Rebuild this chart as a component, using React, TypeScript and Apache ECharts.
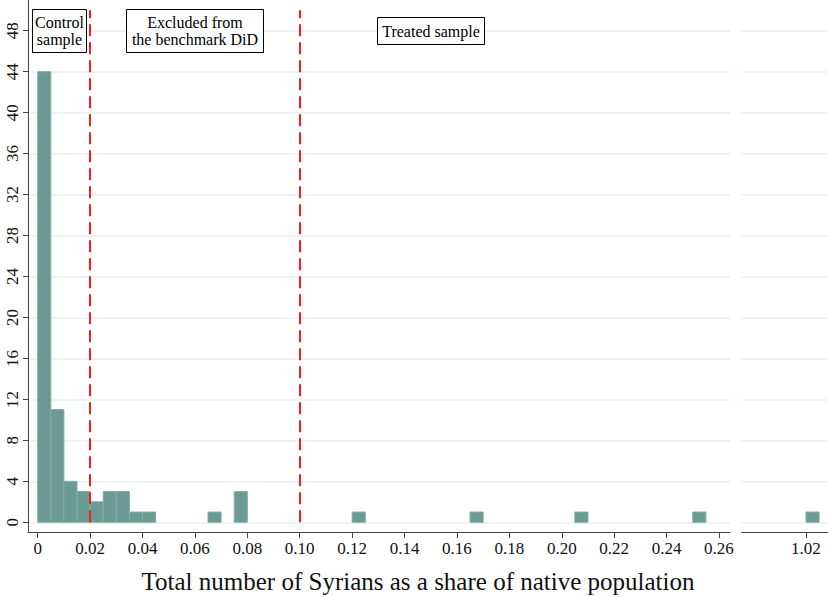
import React, { useEffect, useRef } from "react";
import * as echarts from "echarts";

// Histogram bins (width 0.005): bin start and count
const binStarts = [0, 0.005, 0.01, 0.015, 0.02, 0.025, 0.03, 0.035, 0.04, 0.065, 0.075, 0.12, 0.165, 0.205, 0.25];
const binCounts = [44, 11, 4, 3, 2, 3, 3, 1, 1, 1, 3, 1, 1, 1, 1];
const outlierStarts = [1.02];
const outlierCounts = [1];
const binWidth = 0.005;

const xTicksMain = [0, 0.02, 0.04, 0.06, 0.08, 0.1, 0.12, 0.14, 0.16, 0.18, 0.2, 0.22, 0.24, 0.26];
const xTicksRight = [1.02];
const yTicks = [0, 4, 8, 12, 16, 20, 24, 28, 32, 36, 40, 44, 48];
const cutoffs = [0.02, 0.1];
const xTitle = "Total number of Syrians as a share of native population";

const SERIF = "Liberation Serif";
const BAR_FILL = "#6b9a93";
const BAR_STROKE = "#82aca5";
const GRID_COLOR = "#e9f0f2";
const AXIS_COLOR = "#444";

function rectItem(starts: number[], counts: number[]) {
  return (params: any, api: any) => {
    const i = params.dataIndex;
    const x0 = starts[i];
    const c = counts[i];
    const p0 = api.coord([x0, c]);
    const p1 = api.coord([x0 + binWidth, 0]);
    return {
      type: "rect",
      shape: { x: p0[0], y: p0[1], width: p1[0] - p0[0], height: p1[1] - p0[1] },
      style: { fill: BAR_FILL, stroke: BAR_STROKE, lineWidth: 1 },
    };
  };
}

export default function App() {
  const ref = useRef<HTMLDivElement>(null);
  useEffect(() => {
    if (!ref.current) return;
    const chart = echarts.init(ref.current, null, { renderer: "svg" });
    const fmt = (v: number) => (v === 0 ? "0" : v.toFixed(2));
    const labelStyle = { fontFamily: SERIF, fontSize: 17, color: "#111" };
    chart.setOption({
      animation: false,
      backgroundColor: "#fff",
      grid: [
        { left: 28, top: 0, width: 702, height: 532 },
        { left: 741.5, top: 0, right: 0, height: 532 },
      ],
      xAxis: [
        {
          type: "value",
          gridIndex: 0,
          min: -0.0037,
          max: 0.2642,
          axisLine: { show: true, onZero: false, lineStyle: { color: AXIS_COLOR, width: 1 } },
          axisTick: { show: true, length: 6, customValues: xTicksMain, lineStyle: { color: AXIS_COLOR } },
          axisLabel: { ...labelStyle, margin: 8, customValues: xTicksMain, formatter: fmt },
          splitLine: { show: false },
        },
        {
          type: "value",
          gridIndex: 1,
          min: 0.99538,
          max: 1.0284,
          axisLine: { show: true, onZero: false, lineStyle: { color: AXIS_COLOR, width: 1 } },
          axisTick: { show: true, length: 6, customValues: xTicksRight, lineStyle: { color: AXIS_COLOR } },
          axisLabel: { ...labelStyle, margin: 8, customValues: xTicksRight, formatter: fmt },
          splitLine: { show: false },
        },
      ],
      yAxis: [
        {
          type: "value",
          gridIndex: 0,
          min: -0.95,
          max: 51,
          axisLine: { show: true, onZero: false, lineStyle: { color: AXIS_COLOR, width: 1 } },
          axisTick: { show: true, length: 5, customValues: yTicks, lineStyle: { color: AXIS_COLOR } },
          axisLabel: { ...labelStyle, rotate: 90, margin: 7, customValues: yTicks },
          splitLine: { show: true, lineStyle: { color: GRID_COLOR, width: 1.5 } },
        },
        {
          type: "value",
          gridIndex: 1,
          min: -0.95,
          max: 51,
          axisLine: { show: false },
          axisTick: { show: false, customValues: yTicks },
          axisLabel: { show: false },
          splitLine: { show: true, lineStyle: { color: GRID_COLOR, width: 1.5 } },
        },
      ],
      series: [
        {
          type: "custom",
          xAxisIndex: 0,
          yAxisIndex: 0,
          data: binStarts.map((s, i) => [s, binCounts[i]]),
          renderItem: rectItem(binStarts, binCounts),
          z: 2,
        },
        {
          type: "custom",
          xAxisIndex: 1,
          yAxisIndex: 1,
          data: outlierStarts.map((s, i) => [s, outlierCounts[i]]),
          renderItem: rectItem(outlierStarts, outlierCounts),
          z: 2,
        },
        {
          type: "line",
          xAxisIndex: 0,
          yAxisIndex: 0,
          data: [],
          z: 3,
          markLine: {
            silent: true,
            symbol: "none",
            label: { show: false },
            lineStyle: { color: "#ff1a1a", width: 2, type: [12, 6] },
            data: cutoffs.map((c) => [{ coord: [c, 0] }, { coord: [c, 50] }]),
          },
        },
      ],
      graphic: [
        {
          type: "text",
          x: 418,
          y: 581,
          z: 11,
          style: { text: xTitle, fontFamily: SERIF, fontSize: 25, fill: "#111", align: "center", verticalAlign: "middle" },
        },
        {
          type: "rect",
          shape: { x: 32.5, y: 9.5, width: 54, height: 43 },
          style: { fill: "#fff", stroke: "#000", lineWidth: 1 },
          z: 10,
        },
        {
          type: "text",
          x: 59.5,
          y: 31,
          z: 11,
          style: { text: "Control\nsample", fontFamily: SERIF, fontSize: 16, fill: "#000", align: "center", verticalAlign: "middle", lineHeight: 17 },
        },
        {
          type: "rect",
          shape: { x: 126.5, y: 9.5, width: 137, height: 43 },
          style: { fill: "#fff", stroke: "#000", lineWidth: 1 },
          z: 10,
        },
        {
          type: "text",
          x: 195,
          y: 31,
          z: 11,
          style: { text: "Excluded from\nthe benchmark DiD", fontFamily: SERIF, fontSize: 16, fill: "#000", align: "center", verticalAlign: "middle", lineHeight: 17 },
        },
        {
          type: "rect",
          shape: { x: 377.5, y: 17.5, width: 107, height: 27 },
          style: { fill: "#fff", stroke: "#000", lineWidth: 1 },
          z: 10,
        },
        {
          type: "text",
          x: 431,
          y: 31,
          z: 11,
          style: { text: "Treated sample", fontFamily: SERIF, fontSize: 16, fill: "#000", align: "center", verticalAlign: "middle" },
        },
      ],
    });
    return () => chart.dispose();
  }, []);
  return <div ref={ref} style={{ width: 828, height: 597, position: "absolute", left: 0, top: 0 }} />;
}
